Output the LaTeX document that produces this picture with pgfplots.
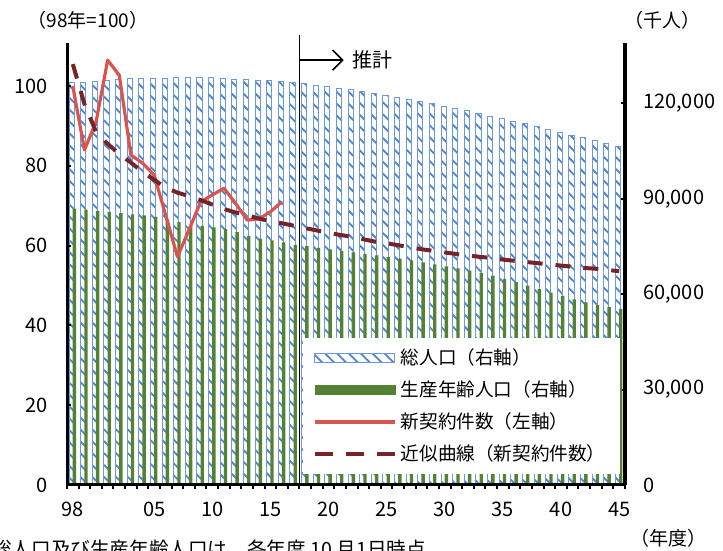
\documentclass[border=0pt]{standalone}
\usepackage{fontspec}
\setmainfont{Noto Sans CJK JP}
\usepackage{pgfplots}
\usepackage{pgfplotstable}
\pgfplotsset{compat=1.18}
\usetikzlibrary{patterns.meta,arrows.meta}

\definecolor{popblue}{RGB}{80,130,205}
\definecolor{popedge}{RGB}{105,155,218}
\definecolor{workgreen}{RGB}{84,130,53}
\definecolor{contractred}{RGB}{218,84,78}
\definecolor{fitred}{RGB}{118,36,40}

\tikzset{
  hatchbar/.style={draw=popedge, line width=0.5pt,
    pattern={Lines[angle=-45,distance=4.2pt,line width=0.9pt]}, pattern color=popblue},
}

% population, thousand persons (Oct. 1)
\pgfplotstableread{
year total working
1998 126486 86900
1999 126686 86600
2000 126926 86200
2001 127316 85900
2002 127486 85500
2003 127694 85100
2004 127787 84800
2005 127768 84300
2006 127901 83500
2007 128033 82700
2008 128084 81800
2009 128032 81500
2010 128057 81000
2011 127834 80500
2012 127593 79500
2013 127414 78300
2014 127237 77500
2015 127095 76900
2016 126933 76300
2017 126706 75500
2018 126177 75100
2019 125773 74600
2020 125325 74060
2021 124836 73600
2022 124310 73130
2023 123751 72650
2024 123161 72180
2025 122544 71700
2026 121903 71170
2027 121240 70600
2028 120555 70000
2029 119850 69400
2030 119125 68750
2031 118380 68100
2032 117616 67400
2033 116833 66650
2034 116033 65830
2035 115216 64800
2036 114383 63800
2037 113535 62700
2038 112674 61600
2039 111801 60500
2040 110919 59500
2041 110028 58400
2042 109131 57400
2043 108229 56600
2044 107326 55900
2045 106421 55400
}\poptable

% new contracts, index (1998 = 100)
\pgfplotstableread{
year value
1998 100
1999 84
2000 91
2001 106.5
2002 102.7
2003 82.7
2004 80.7
2005 77.7
2006 67.5
2007 57.2
2008 64
2009 71
2010 72.7
2011 74.4
2012 70.6
2013 66.4
2014 66.7
2015 68.5
2016 71
}\contracttable

% fitted curve for new contracts
\pgfplotstableread{
year value
1998 105.5
1999 95.5
2000 88.5
2001 85.5
2002 83
2003 80.8
2004 78.5
2005 76.5
2006 74.5
2007 73.3
2008 72.4
2009 71.4
2010 70.3
2011 69.2
2012 68.3
2013 67.6
2014 66.8
2015 66.1
2016 65.6
2017 65.0
2018 64.4
2019 63.8
2020 63.2
2021 62.7
2022 62.2
2023 61.6
2024 61.0
2025 60.6
2026 60.1
2027 59.6
2028 59.1
2029 58.7
2030 58.3
2031 57.9
2032 57.5
2033 57.2
2034 56.9
2035 56.5
2036 56.2
2037 55.9
2038 55.6
2039 55.3
2040 55.0
2041 54.7
2042 54.4
2043 54.2
2044 53.9
2045 53.6
}\fittable

\begin{document}
\begin{tikzpicture}
\pgfplotsset{
  commonframe/.style={
    at={(33.5pt,33pt)}, anchor=south west,
    scale only axis, width=279pt, height=221pt,
    xmin=1997.5, xmax=2045.5,
    ticklabel style={font=\fontsize{10}{12}\selectfont},
  },
}
% population bars, right axis
\begin{axis}[
  commonframe,
  ymin=0, ymax=139000,
  scaled y ticks=false,
  axis x line=none, axis y line*=right,
  y axis line style={line width=2pt},
  ytick={0,30000,60000,90000,120000},
  yticklabels={0,{30,000},{60,000},{90,000},{120,000}},
  major tick length=2pt,
  ytick style={line width=1pt,black},
  yticklabel style={xshift=5.5pt},
]
\addplot[ybar, bar width=2.6pt, bar shift=-0.6pt, hatchbar]
  table[x=year,y=total]{\poptable};
\addplot[ybar, bar width=1.7pt, bar shift=0.8pt, fill=workgreen, draw=none]
  table[x=year,y=working]{\poptable};
\end{axis}
% contracts, left axis
\begin{axis}[
  commonframe,
  ymin=0, ymax=110.8,
  clip=false,
  axis x line*=bottom, axis y line*=left,
  axis line style={line width=1.5pt},
  xtick={1998,2005,2010,2015,2020,2025,2030,2035,2040,2045},
  xticklabels={98,05,10,15,20,25,30,35,40,45},
  major x tick style={draw=none},
  minor xtick={1997.5,1998.5,...,2045.5},
  minor tick length=-2.2pt,
  minor x tick style={line width=1pt,black},
  xticklabel style={yshift=-5pt},
  ytick={0,20,40,60,80,100},
  yticklabels={0,20,40,60,80,100},
  major tick length=2pt,
  ytick style={line width=1pt,black},
  yticklabel style={xshift=-6pt},
  legend cell align=left,
  legend style={at={(0.991,0.3326)}, anchor=north east, draw=none, fill=white,
    font=\fontsize{9.3}{11}\selectfont, row sep=2.6pt, inner xsep=5pt, inner ysep=3pt},
]
\addlegendimage{legend image code/.code={
  \draw[hatchbar] (0pt,-2.25pt) rectangle (40pt,2.25pt);}}
\addlegendentry{総人口（右軸）}
\addlegendimage{legend image code/.code={
  \fill[workgreen] (0pt,-2.25pt) rectangle (40pt,2.25pt);}}
\addlegendentry{生産年齢人口（右軸）}
\addplot[contractred, line width=1.6pt, line join=round,
  legend image code/.code={\draw[contractred, line width=1.6pt] (0pt,0pt) -- (40pt,0pt);}]
  table[x=year,y=value]{\contracttable};
\addlegendentry{新契約件数（左軸）}
\addplot[fitred, line width=2pt, dash pattern=on 7.5pt off 6.5pt,
  legend image code/.code={\draw[fitred, line width=2pt, dash pattern=on 9pt off 6.5pt] (0pt,0pt) -- (40pt,0pt);}]
  table[x=year,y=value]{\fittable};
\addlegendentry{近似曲線（新契約件数）}
% projection boundary
\draw[black, line width=0.8pt] (axis cs:2017.5,0) -- (axis cs:2017.5,112.8);
\draw[black, line width=0.8pt, -{Straight Barb[length=5pt,width=10pt]}]
  (axis cs:2017.5,106.5) -- (axis cs:2021.3,106.5);
\node[font=\fontsize{10}{12}\selectfont] at (axis cs:2023.74,106.5) {推計};
\end{axis}
\node[font=\fontsize{9.5}{11}\selectfont] at (44pt,265.5pt) {（98年=100）};
\node[font=\fontsize{9.5}{11}\selectfont] at (331pt,265.5pt) {（千人）};
\node[font=\fontsize{9.5}{11}\selectfont] at (334pt,6.5pt) {（年度）};
\node[font=\fontsize{9.8}{11}\selectfont, anchor=west, inner sep=0pt] at (-4pt,1pt)
  {総人口及び生産年齢人口は、各年度 10 月1日時点。};
\pgfresetboundingbox
\useasboundingbox (0,0) rectangle (361.5pt,275.5pt);
\end{tikzpicture}
\end{document}
